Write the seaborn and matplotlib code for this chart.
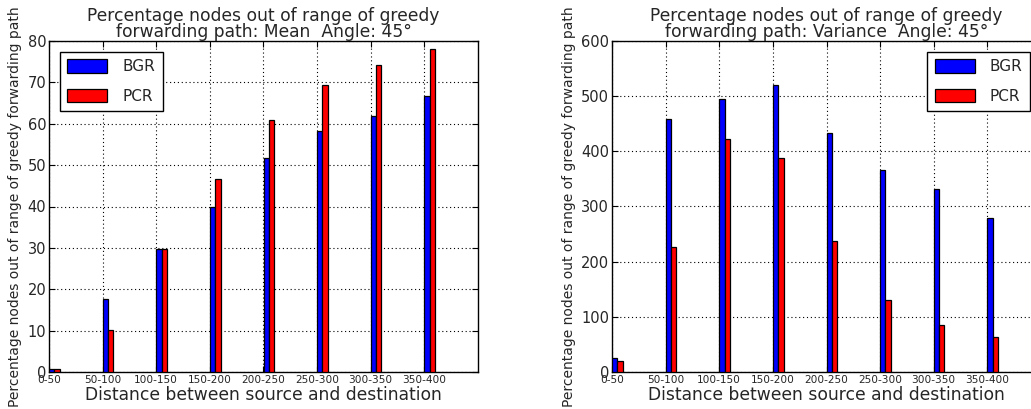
import matplotlib
matplotlib.use("Agg")
import matplotlib.pyplot as plt
import seaborn as sns
import pandas as pd
from matplotlib.patches import Patch

# ---- data ----
categories = ["0-50", "50-100", "100-150", "150-200", "200-250", "250-300", "300-350", "350-400"]
series = ["BGR", "PCR"]
mean_bgr = [0.7, 17.6, 29.8, 40.0, 51.8, 58.3, 61.8, 66.7]
mean_pcr = [0.7, 10.1, 29.8, 46.6, 60.8, 69.4, 74.1, 78.1]
var_bgr = [26, 459, 495, 521, 433, 366, 331, 279]
var_pcr = [20, 227, 423, 388, 237, 130, 85, 64]
colors = ["#0000ff", "#ff0000"]

mean_ticks = [0, 10, 20, 30, 40, 50, 60, 70, 80]
var_ticks = [0, 100, 200, 300, 400, 500, 600]

titles = [
    "Percentage nodes out of range of greedy\nforwarding path: Mean  Angle: 45°",
    "Percentage nodes out of range of greedy\nforwarding path: Variance  Angle: 45°",
]
ylabel = "Percentage nodes out of range of greedy forwarding path"
xlabel = "Distance between source and destination"


def make_df(bgr, pcr):
    return pd.DataFrame({
        "cat": categories * 2,
        "series": [series[0]] * len(categories) + [series[1]] * len(categories),
        "val": list(bgr) + list(pcr),
    })


sns.set_style("white")
plt.rcParams["font.family"] = ["DejaVu Sans"]

W, H = 1031, 409
fig = plt.figure(figsize=(W / 100, H / 100), dpi=100)
bottom = (H - 372) / H
height = 331 / H
axw = 429 / W
ax1 = fig.add_axes([49 / W, bottom, axw, height])
ax2 = fig.add_axes([612 / W, bottom, axw, height])

panels = [
    (ax1, make_df(mean_bgr, mean_pcr), mean_ticks, titles[0], "upper left"),
    (ax2, make_df(var_bgr, var_pcr), var_ticks, titles[1], "upper right"),
]

for ax, df, yt, title, loc in panels:
    sns.barplot(data=df, x="cat", y="val", hue="series", order=categories,
                hue_order=series, palette=colors, width=0.2, dodge=True,
                saturation=1, edgecolor="black", linewidth=0.9,
                errorbar=None, legend=False, ax=ax, zorder=3)
    n = len(categories)
    ax.set_xticks([i - 0.1 for i in range(n)])
    ax.set_xticklabels(categories, fontsize=7.6)
    ax.set_xlim(-0.1, n - 0.1)
    ax.set_ylim(yt[0], yt[-1])
    ax.set_yticks(yt)
    ax.tick_params(axis="y", labelsize=10.5, pad=2)
    ax.tick_params(axis="x", pad=2)
    ax.tick_params(direction="in", length=4, top=True, right=True,
                   bottom=True, left=True, color="black")
    ax.grid(True, linestyle=(0, (1, 2.5)), color="black", linewidth=0.8, zorder=0)
    ax.set_axisbelow(True)
    for s in ax.spines.values():
        s.set_color("black")
        s.set_linewidth(1.0)
    ax.set_title(title, fontsize=12.3, linespacing=0.85, pad=3)
    ax.set_xlabel(xlabel, fontsize=12.3, labelpad=1)
    ax.set_ylabel(ylabel, fontsize=10, labelpad=4)
    handles = [Patch(facecolor=c, edgecolor="black", linewidth=0.9) for c in colors]
    ax.legend(handles, series, loc=loc, fontsize=11, fancybox=False,
              edgecolor="black", framealpha=1, handlelength=2.6,
              handleheight=0.95, handletextpad=1.0, borderpad=0.5,
              labelspacing=0.95, borderaxespad=0.7)
    ax.get_legend().get_frame().set_linewidth(1.0)

fig.savefig("out.png", dpi=100)
